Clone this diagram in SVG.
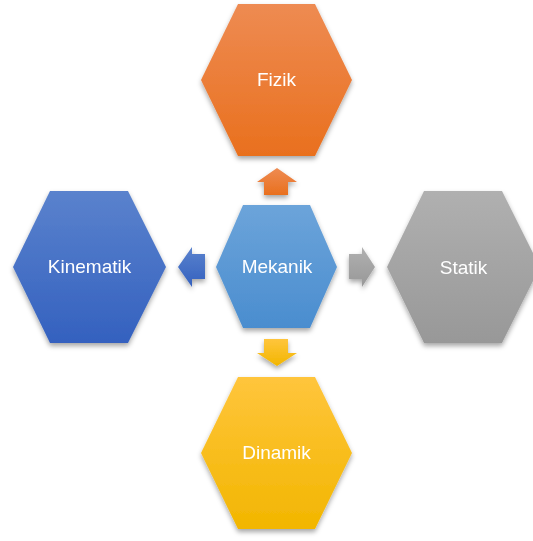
<svg xmlns="http://www.w3.org/2000/svg" width="533" height="541" viewBox="0 0 533 541">
<style>
.lbl{font-family:"Liberation Sans",Arial,sans-serif;font-size:19px;fill:#ffffff;text-anchor:middle}
</style>
<defs>
<filter id="sh" x="-20%" y="-20%" width="140%" height="145%">
<feDropShadow dx="0" dy="3" stdDeviation="2.5" flood-color="#000" flood-opacity="0.35"/>
</filter>
<linearGradient id="gOr" x1="0" y1="0" x2="0" y2="1"><stop offset="0" stop-color="#EE8B52"/><stop offset="1" stop-color="#E9701E"/></linearGradient>
<linearGradient id="gMe" x1="0" y1="0" x2="0" y2="1"><stop offset="0" stop-color="#6CA4DA"/><stop offset="1" stop-color="#4A8DCF"/></linearGradient>
<linearGradient id="gKi" x1="0" y1="0" x2="0" y2="1"><stop offset="0" stop-color="#5A82CD"/><stop offset="1" stop-color="#3461BF"/></linearGradient>
<linearGradient id="gSt" x1="0" y1="0" x2="0" y2="1"><stop offset="0" stop-color="#B0B0B0"/><stop offset="1" stop-color="#989898"/></linearGradient>
<linearGradient id="gDi" x1="0" y1="0" x2="0" y2="1"><stop offset="0" stop-color="#FFC53C"/><stop offset="1" stop-color="#F2B600"/></linearGradient>
</defs>
<g id="connectors" filter="url(#sh)">
<polygon points="277,168 297,182 288,182 288,195 264,195 264,182 257,182" fill="url(#gOr)"/>
<polygon points="264,339 288,339 288,353 297,353 277,366 257,353 264,353" fill="url(#gDi)"/>
<polygon points="178,267 192,247 192,254 205,254 205,279 192,279 192,287" fill="url(#gKi)"/>
<polygon points="349,254 362,254 362,247 375,267 362,287 362,279 349,279" fill="url(#gSt)"/>
</g>
<g id="fizik" filter="url(#sh)">
<polygon points="238,4 315,4 352,80 315,156 238,156 201,80" fill="url(#gOr)"/>
<text class="lbl" x="276.5" y="86">Fizik</text>
</g>
<g id="mekanik" filter="url(#sh)">
<polygon points="243,205 310,205 337,267 310,328 243,328 216,267" fill="url(#gMe)"/>
<text class="lbl" x="277" y="273">Mekanik</text>
</g>
<g id="kinematik" filter="url(#sh)">
<polygon points="50,191 128,191 166,267 128,343 50,343 13,267" fill="url(#gKi)"/>
<text class="lbl" x="89.5" y="273">Kinematik</text>
</g>
<g id="statik" filter="url(#sh)">
<polygon points="424,191 502,191 540,267 502,343 424,343 387,267" fill="url(#gSt)"/>
<text class="lbl" x="463.5" y="274">Statik</text>
</g>
<g id="dinamik" filter="url(#sh)">
<polygon points="238,377 315,377 352,453 315,529 238,529 201,453" fill="url(#gDi)"/>
<text class="lbl" x="276.5" y="459">Dinamik</text>
</g>
</svg>
